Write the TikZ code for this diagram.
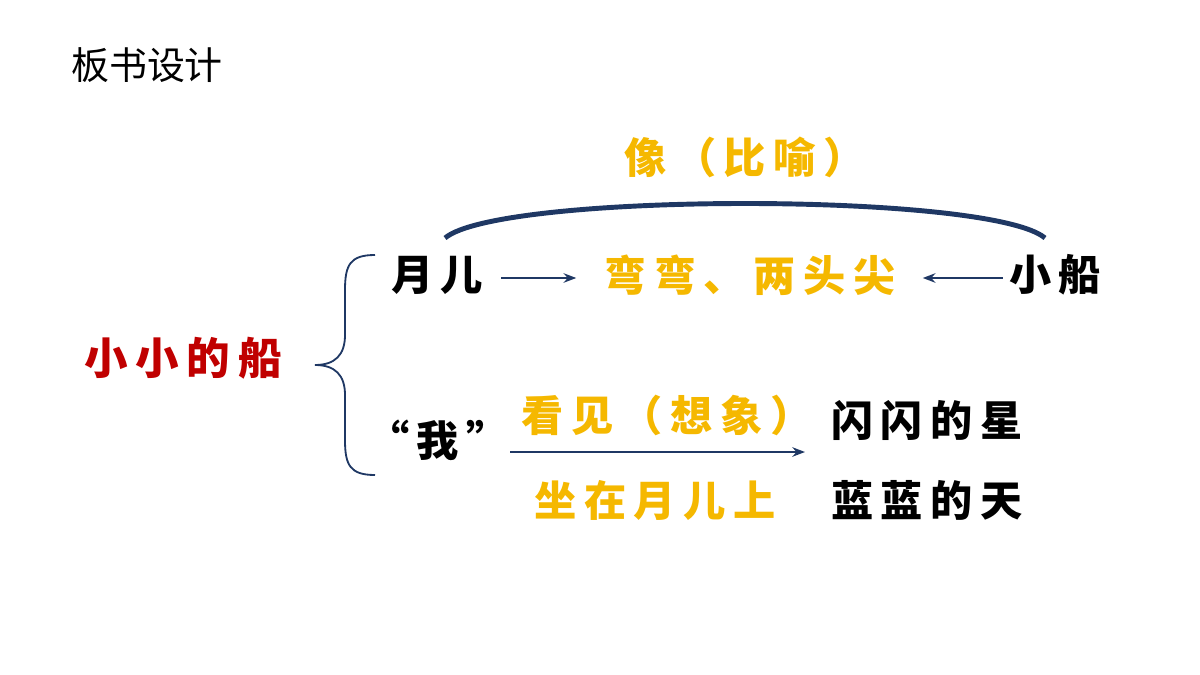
\documentclass[tikz,border=0pt]{standalone}
\usepackage{fontspec}
\usetikzlibrary{arrows.meta}
\newfontfamily\cjk[LetterSpace=18]{Noto Sans CJK SC}
\newfontfamily\cjktitle{Noto Sans CJK SC}
\definecolor{navy}{HTML}{1F3864}
\definecolor{gold}{HTML}{F5B800}
\definecolor{deepred}{HTML}{C00000}
\begin{document}
\begin{tikzpicture}[x=0.025cm,y=-0.025cm]
    \tikzset{word/.style= {inner sep=0pt,
                           font=\cjk\bfseries\fontsize{30}{32}\selectfont},
             gold/.style=  {word, text=gold},
             link/.style=  {draw=navy, line width=2pt, -{Stealth[length=9pt]}},
            }
    \useasboundingbox (0,0) rectangle (1200,675);
    \path
    (147,65)   node[inner sep=0pt,font=\cjktitle\fontsize{27}{29}\selectfont](title) {板书设计}
    (183,358)  node[word,text=deepred,font=\cjk\bfseries\fontsize{31}{33}\selectfont](ship) {小小的船}
    (437,275)  node[word](moon) {月儿}
    (750,275)  node[gold](shape) {弯弯、两头尖}
    (1055,275) node[word](boat) {小船}
    (745,157)  node[gold](like) {像（比喻）}
    (438,440)  node[word](me) {“我”}
    (667,415)  node[gold](see) {看见（想象）}
    (655,500)  node[gold](sit) {坐在月儿上}
    (927,420)  node[word](star) {闪闪的星}
    (927,500)  node[word](sky) {蓝蓝的天}
    (510,452)  coordinate (a)
    (805,452)  coordinate (b)
    (445,238)  coordinate (l)
    (1045,238) coordinate (r)
    ;
    \draw[link] (moon.east) ++(18,3) -- ++(75,0);
    \draw[link] (boat.west) ++(-6,3) -- ++(-80,0);
    \draw[link] (a) -- (b);
    \draw[navy, line width=3.5pt] (l) .. controls (500,192) and (990,192) .. (r);
    % brace
    \draw[navy, line width=1.3pt] (375,255) .. controls (350,255) and (345,265) .. (345,290)
        -- (345,335) .. controls (345,355) and (335,365) .. (315,365)
        .. controls (335,365) and (345,375) .. (345,395)
        -- (345,440) .. controls (345,465) and (350,475) .. (375,475);
\end{tikzpicture}
\end{document}
